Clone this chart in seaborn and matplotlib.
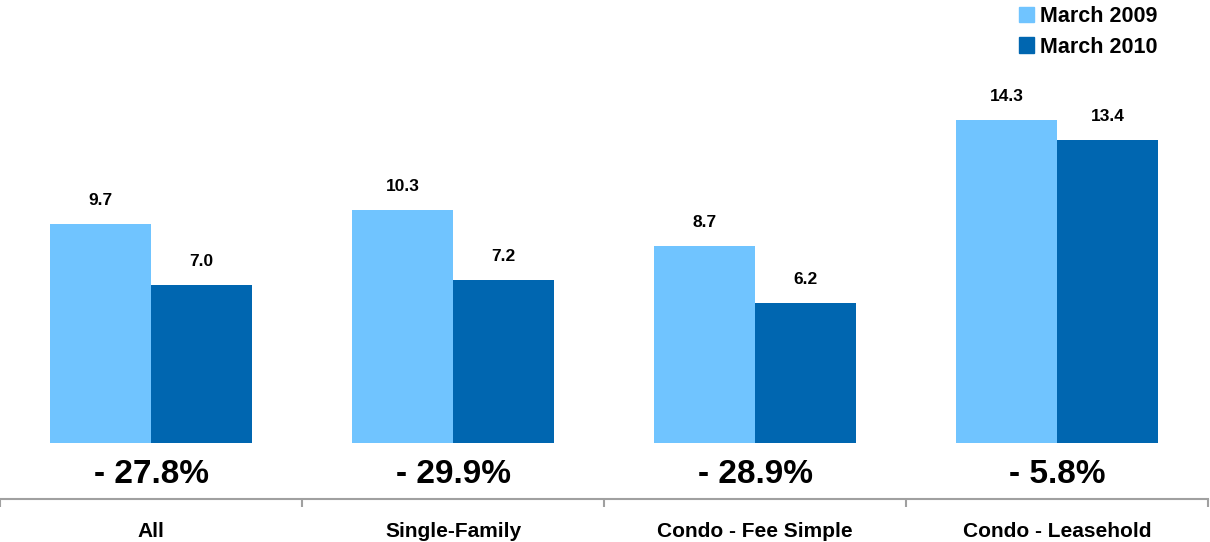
import numpy as np
import pandas as pd
import seaborn as sns
import matplotlib.pyplot as plt
from matplotlib.patches import Patch
from matplotlib.ticker import FixedLocator

categories = ["All", "Single-Family", "Condo - Fee Simple", "Condo - Leasehold"]
march_2009 = [9.7, 10.3, 8.7, 14.3]
march_2010 = [7.0, 7.2, 6.2, 13.4]
pct_change = ["- 27.8%", "- 29.9%", "- 28.9%", "- 5.8%"]
series = ["March 2009", "March 2010"]
colors = ["#70C4FF", "#0066B0"]

df = pd.DataFrame({
    "Category": categories * 2,
    "Series": [series[0]] * 4 + [series[1]] * 4,
    "Value": march_2009 + march_2010,
})

sns.set_style("white")
plt.rcParams["font.family"] = ["Liberation Sans", "DejaVu Sans"]
plt.rcParams["text.color"] = "black"
plt.rcParams["xtick.color"] = "black"

fig = plt.figure(figsize=(12.1, 5.42), dpi=100)
ax = fig.add_axes([0, 99 / 542, 1208 / 1210, 363 / 542])

sns.barplot(data=df, x="Category", y="Value", hue="Series", palette=colors,
            width=0.67, gap=0, saturation=1, linewidth=0, ax=ax, legend=False)

ax.set_xlim(-0.5, 3.5)
ax.set_ylim(0, 363 / 22.6)

# value labels above bars, change labels under each group
for i, cat in enumerate(categories):
    for j, vals in enumerate([march_2009, march_2010]):
        x = i + (j - 0.5) * 0.335
        ax.annotate(f"{vals[i]:.1f}", (x, vals[i]), xytext=(0, 17), textcoords="offset points",
                    ha="center", va="center", fontsize=12.5, fontweight="bold", color="black")
    ax.annotate(pct_change[i], (i, 0), xytext=(0, -23), textcoords="offset points",
                ha="center", va="center", fontsize=24, fontweight="bold", color="black")

for s in ["top", "right", "left"]:
    ax.spines[s].set_visible(False)
ax.spines["bottom"].set_position(("outward", 40))
ax.spines["bottom"].set_color("#A0A0A0")
ax.spines["bottom"].set_linewidth(1.5)
ax.set_yticks([])
ax.set_xlabel("")
ax.set_ylabel("")
ax.xaxis.set_minor_locator(FixedLocator([-0.5, 0.5, 1.5, 2.5, 3.5]))
ax.tick_params(axis="x", which="major", bottom=False, length=0, pad=17, labelsize=15, labelcolor="black")
ax.tick_params(axis="x", which="minor", bottom=True, length=6, width=1.5, color="#A0A0A0", direction="out")
for lbl in ax.get_xticklabels():
    lbl.set_fontweight("bold")

handles = [Patch(color=c, label=s) for c, s in zip(colors, series)]
leg = fig.legend(handles=handles, loc="upper right", bbox_to_anchor=(0.973, 1.025), frameon=False,
                 handlelength=0.7, handleheight=0.7, handletextpad=0.3, labelspacing=0.45,
                 prop={"weight": "bold", "size": 15.5})

fig.savefig("out.png", dpi=100)
